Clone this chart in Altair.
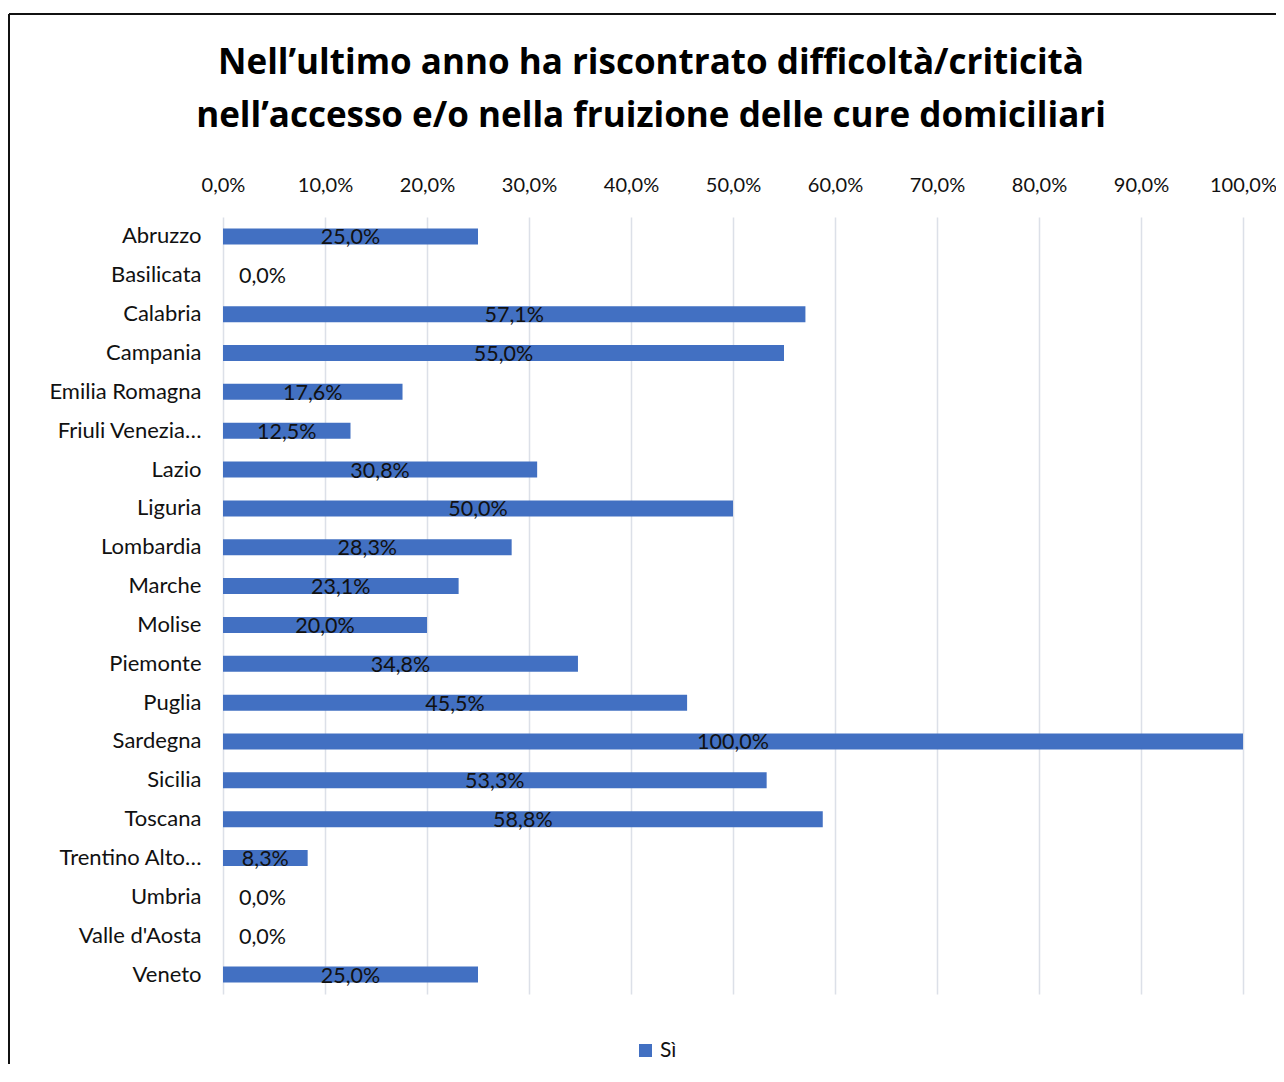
import altair as alt
import pandas as pd

regions = ["Abruzzo", "Basilicata", "Calabria", "Campania", "Emilia Romagna",
           "Friuli Venezia Giulia", "Lazio", "Liguria", "Lombardia", "Marche",
           "Molise", "Piemonte", "Puglia", "Sardegna", "Sicilia", "Toscana",
           "Trentino Alto Adige", "Umbria", "Valle d'Aosta", "Veneto"]
values = [0.250, 0.0, 0.571, 0.550, 0.176, 0.125, 0.308, 0.500, 0.283, 0.231,
          0.200, 0.348, 0.455, 1.000, 0.533, 0.588, 0.083, 0.0, 0.0, 0.250]
series_name = "Sì"

df = pd.DataFrame({"regione": regions, "valore": values, "serie": [series_name] * len(regions)})

FONT = "Lato"
TITLE_FONT = "Open Sans"
BLUE = "#4270C2"
TXT = "#111111"
W, H = 1020, 777

y_enc = alt.Y("regione:N", sort=regions,
              scale=alt.Scale(paddingInner=0.59, paddingOuter=0.295),
              axis=alt.Axis(title=None, domain=False, ticks=False, labelPadding=22,
                            labelFontSize=22, labelFont=FONT, labelColor=TXT,
                            labelLimit=300,
                            labelExpr="length(datum.label) > 16 ? trim(slice(datum.label, 0, 14)) + '…' : datum.label"))

x_scale = alt.Scale(domain=[0, 1], nice=False)

bars = alt.Chart(df).mark_bar(size=16).encode(
    x=alt.X("valore:Q", scale=x_scale,
            axis=alt.Axis(title=None, orient="top", values=[i / 10 for i in range(11)],
                          labelExpr="replace(format(datum.value, '.1%'), '.', ',')",
                          domain=False, ticks=False, labelPadding=22,
                          labelFlush=False, labelOverlap=False,
                          labelFontSize=20, labelFont=FONT, labelColor=TXT,
                          grid=True, gridColor="#DCE0E8", gridWidth=1.5)),
    y=y_enc,
    color=alt.Color("serie:N", scale=alt.Scale(range=[BLUE]),
                    legend=alt.Legend(title=None, orient="none", legendX=412, legendY=823,
                                      symbolType="square", symbolSize=169,
                                      symbolStrokeWidth=0, labelOffset=4,
                                      labelFontSize=21, labelFont=FONT, labelColor=TXT)),
)

base_text = alt.Chart(df).transform_calculate(
    half="datum.valore / 2",
    etichetta="replace(format(datum.valore, '.1%'), '.', ',')",
)

text_pos = base_text.transform_filter("datum.valore > 0").mark_text(
    align="center", baseline="middle", dy=2, fontSize=21.5, font=FONT, color=TXT
).encode(x=alt.X("half:Q", scale=x_scale), y=alt.Y("regione:N", sort=regions), text="etichetta:N")

text_zero = base_text.transform_filter("datum.valore == 0").mark_text(
    align="left", baseline="middle", dx=16, dy=2, fontSize=21.5, font=FONT, color=TXT
).encode(x=alt.X("valore:Q", scale=x_scale), y=alt.Y("regione:N", sort=regions), text="etichetta:N")

frame_top = alt.Chart(df).mark_rule(color="#111111", strokeWidth=2).encode(
    x=alt.value(-214), x2=alt.value(W + 50), y=alt.value(-203))
frame_left = alt.Chart(df).mark_rule(color="#111111", strokeWidth=2).encode(
    x=alt.value(-214), y=alt.value(-203), y2=alt.value(H + 90))

chart = alt.layer(bars, text_pos, text_zero, frame_top, frame_left).properties(
    width=W, height=H,
    autosize=alt.AutoSizeParams(type="none"),
    padding={"left": 215, "top": 209, "right": 33, "bottom": 70},
    title=alt.TitleParams(
        text=["Nell’ultimo anno ha riscontrato difficoltà/criticità",
              "nell’accesso e/o nella fruizione delle cure domiciliari"],
        fontSize=35, font=TITLE_FONT, fontWeight="bold", color="#000000",
        anchor="middle", frame="group", dx=-82, lineHeight=53, offset=-121),
).configure_view(stroke=None)

chart.save("out.html", embed_options={"renderer": "svg", "actions": False})
